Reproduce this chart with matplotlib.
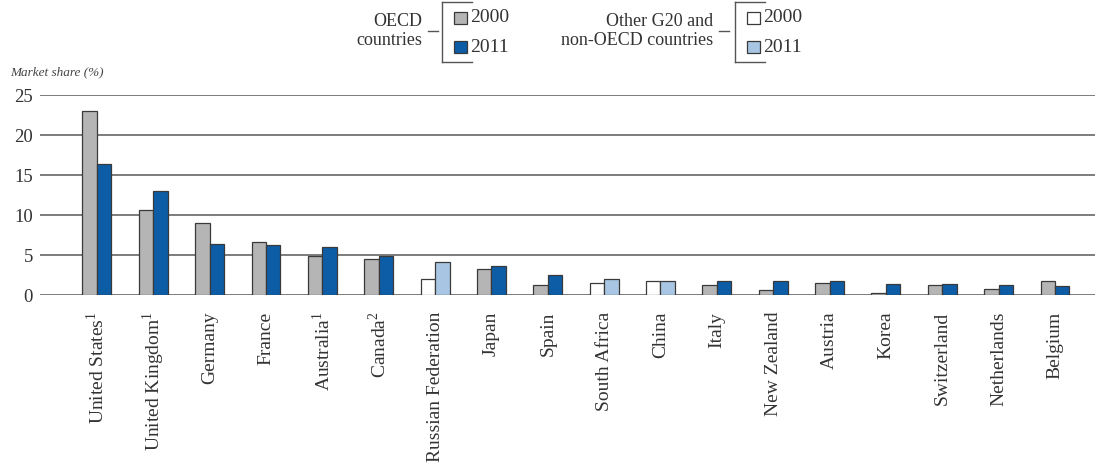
import numpy as np
import matplotlib.pyplot as plt
from matplotlib.lines import Line2D
from matplotlib.patches import Rectangle

##### data #####
countries = ['United States$^1$', 'United Kingdom$^1$', 'Germany', 'France',
             'Australia$^1$', 'Canada$^2$', 'Russian Federation', 'Japan',
             'Spain', 'South Africa', 'China', 'Italy', 'New Zealand',
             'Austria', 'Korea', 'Switzerland', 'Netherlands', 'Belgium']
share_2000 = [23.0, 10.6, 9.0, 6.6, 4.9, 4.5, 2.0, 3.2, 1.3, 1.5, 1.8, 1.3,
              0.6, 1.5, 0.2, 1.3, 0.8, 1.8]
share_2011 = [16.4, 13.0, 6.4, 6.3, 6.0, 4.9, 4.1, 3.6, 2.5, 2.0, 1.8, 1.7,
              1.7, 1.7, 1.4, 1.4, 1.3, 1.1]
oecd = [True, True, True, True, True, True, False, True, True, False, False,
        True, True, True, True, True, True, True]

##### colours #####
grey = '#b5b5b5'
blue = '#0d5ca6'
white = '#ffffff'
light_blue = '#a8c6e4'
edge = '#3a3a3a'
txt = '#333333'

plt.rcParams['font.family'] = ['Liberation Serif', 'DejaVu Serif']
plt.rcParams['mathtext.fontset'] = 'custom'
plt.rcParams['mathtext.rm'] = 'Liberation Serif'

fig = plt.figure(figsize=(10.98, 4.71), dpi=100)
ax = fig.add_axes([40 / 1098, 1 - 295 / 471, 1055 / 1098, 200 / 471])

x = np.arange(len(countries))
w = 0.257
c2000 = [grey if o else white for o in oecd]
c2011 = [blue if o else light_blue for o in oecd]
ax.bar(x - w / 2, share_2000, w, color=c2000, edgecolor=edge, linewidth=0.9, zorder=3)
ax.bar(x + w / 2, share_2011, w, color=c2011, edgecolor=edge, linewidth=0.9, zorder=3)

ax.set_ylim(0, 25)
ax.set_xlim(-1.01, 17.71)
ax.set_yticks([0, 5, 10, 15, 20, 25])
ax.yaxis.grid(True, color='#666666', linewidth=1.2, zorder=0)
ax.tick_params(axis='y', length=0, pad=5, labelsize=13.5, labelcolor=txt)
ax.set_xticks(x)
ax.set_xticklabels(countries, rotation=90, fontsize=14, color=txt)
ax.tick_params(axis='x', length=0, pad=12)
for s in ax.spines.values():
    s.set_visible(False)

fig.text(10 / 1098, 1 - 72 / 471, 'Market share (%)', style='italic',
         fontsize=9.5, color='#444444', va='center')

##### legend #####
def legend_group(label, x_text, x_br, c_a, c_b):
    fig.text(x_text / 1098, 1 - 31 / 471, label, ha='right', va='center',
             fontsize=13, color=txt, linespacing=1.2)
    lw = 1.0
    fig.add_artist(Line2D([(x_text + 6) / 1098, (x_text + 16) / 1098],
                          [1 - 31 / 471] * 2, color='#555555', lw=lw))
    fig.add_artist(Line2D([(x_br) / 1098] * 2, [1 - 2 / 471, 1 - 62 / 471],
                          color='#555555', lw=lw))
    for yy in (2, 62):
        fig.add_artist(Line2D([x_br / 1098, (x_br + 30) / 1098],
                              [1 - yy / 471] * 2, color='#555555', lw=lw))
    for yy, c, t in ((18, c_a, '2000'), (47, c_b, '2011')):
        fig.add_artist(Rectangle(((x_br + 12) / 1098, 1 - (yy + 6) / 471),
                                 13 / 1098, 12 / 471, facecolor=c,
                                 edgecolor=edge, lw=0.9))
        fig.text((x_br + 28) / 1098, 1 - yy / 471, t, ha='left', va='center',
                 fontsize=14, color=txt)

legend_group('OECD\ncountries', 422, 442, grey, blue)
legend_group('Other G20 and\nnon-OECD countries', 713, 735, white, light_blue)

fig.savefig('out.png', dpi=100)
